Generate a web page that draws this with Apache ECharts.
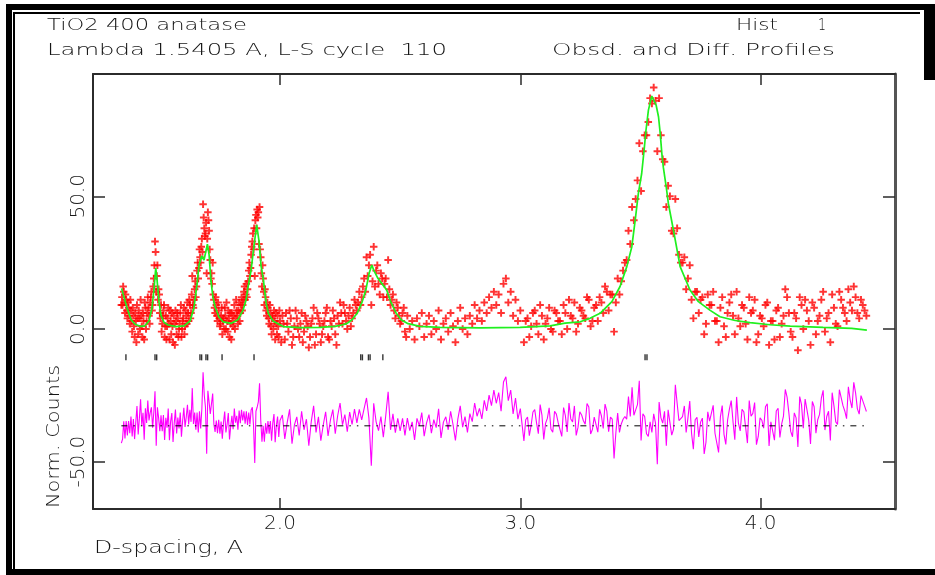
<!DOCTYPE html>
<html>
<head>
<meta charset="utf-8">
<title>TiO2 400 anatase</title>
<script src="https://cdn.jsdelivr.net/npm/echarts@6/dist/echarts.min.js"></script>
<style>
  html, body { margin: 0; padding: 0; background: #fff; }
  #chart { width: 935px; height: 575px; }
</style>
</head>
<body>
<div id="chart"></div>
<script>
// D-spacing of the plotted observations (A)
const dSpacing = [
  1.340,1.345,1.350,1.355,1.360,1.365,1.370,1.375,1.380,1.385,1.390,1.395,1.400,1.405,1.410,1.415,1.420,1.425,1.430,1.435,
  1.440,1.445,1.450,1.455,1.460,1.465,1.470,1.475,1.480,1.485,1.490,1.495,1.500,
  1.505,1.510,1.515,1.520,1.525,1.530,1.535,1.540,1.545,1.550,1.555,1.560,1.565,1.570,1.575,1.580,1.585,1.590,1.595,1.600,
  1.605,1.610,1.615,1.620,1.625,1.630,1.635,1.640,1.645,1.650,1.655,1.660,1.665,1.670,1.675,1.680,1.685,1.690,1.695,1.700,
  1.705,1.710,1.715,1.720,1.725,1.730,1.735,1.740,1.745,1.750,1.755,1.760,1.765,1.770,1.775,1.780,1.785,1.790,1.795,1.800,
  1.805,1.810,1.815,1.820,1.825,1.830,1.835,1.840,1.845,1.850,1.855,1.860,1.865,1.870,1.875,1.880,1.885,1.890,1.895,1.900,
  1.905,1.910,1.915,1.920,1.925,1.930,1.935,1.940,1.945,1.950,1.955,1.960,1.965,1.970,1.975,1.980,1.985,1.990,1.995,2.000,
  2.01,2.02,2.03,2.04,2.05,2.06,2.07,2.08,2.09,2.10,2.11,2.12,2.13,2.14,2.15,2.16,2.17,2.18,2.19,2.20,
  2.21,2.22,2.23,2.24,2.25,2.26,2.27,2.28,2.29,2.30,2.31,2.32,2.33,2.34,2.35,2.36,2.37,2.38,2.39,2.40,
  2.41,2.42,2.43,2.44,2.45,2.46,2.47,2.48,2.49,2.50,2.51,2.52,2.53,2.54,2.55,2.56,2.57,2.58,2.59,2.60,
  2.61,2.62,2.63,2.64,2.65,2.66,2.67,2.68,2.69,2.70,2.71,2.72,2.73,2.74,2.75,2.76,2.77,2.78,2.79,2.80,
  2.81,2.82,2.83,2.84,2.85,2.86,2.87,2.88,2.89,2.90,2.91,2.92,2.93,2.94,2.95,2.96,2.97,2.98,2.99,3.00,
  3.015,3.030,3.045,3.060,3.075,3.090,3.105,3.120,3.135,3.150,3.165,3.180,3.195,3.210,3.225,3.240,3.255,3.270,3.285,3.300,
  3.315,3.330,3.345,3.360,3.375,3.390,3.405,3.420,3.435,3.450,3.465,3.480,3.495,3.510,3.525,3.540,3.555,3.570,3.585,3.600,
  3.615,3.630,3.645,3.660,3.675,3.690,3.705,3.720,3.735,3.750,3.765,3.780,3.795,3.810,3.825,3.840,3.855,3.870,3.885,3.900,
  3.915,3.930,3.945,3.960,3.975,3.990,4.005,4.020,4.035,4.050,4.065,4.080,4.095,4.110,4.125,4.140,4.155,4.170,4.185,4.200,
  4.215,4.230,4.245,4.260,4.275,4.290,4.305,4.320,4.335,4.350,4.365,4.380,4.395,4.410,4.425,4.440
];

// observed normalised counts (red +)
const observed = [
  9,9,14,6,11,4,8,2,7,-1,5,-3,3,9,-2,4,11,1,6,-4,
  8,3,12,5,10,14,9,19,33,14,24,15,6,
  9,2,7,-3,5,1,8,-4,3,6,-5,2,7,-2,4,0,6,-3,3,8,
  1,5,10,3,9,6,20,8,15,12,22,19,30,25,34,47,38,36,21,44,
  37,26,21,25,11,6,9,3,7,1,5,-2,4,8,0,3,7,-3,2,6,
  1,9,4,7,2,10,6,12,9,14,11,17,15,22,20,28,33,30,20,43,
  45,44,46,27,16,19,9,12,5,8,2,6,-2,4,7,-4,2,5,-3,3,
  5,-4,2,7,-6,1,4,-3,6,-1,3,-7,2,8,-2,4,-5,1,6,-3,
  3,7,-2,5,10,2,6,0,8,4,11,7,14,12,19,27,24,9,31,22,
  17,21,12,19,26,9,13,4,8,2,6,-1,5,0,3,-4,4,1,6,-3,
  2,5,-2,3,0,7,-4,2,4,-1,6,1,-5,3,8,0,4,-2,5,2,
  9,4,7,3,10,6,12,8,14,9,13,6,17,19,10,14,5,11,3,7,
  -5,4,1,7,-2,5,2,8,-1,6,3,9,0,5,10,2,7,4,11,3,
  9,12,6,14,13,-1,19,18,25,37,46,49,70,67,73,87,91,67,73,63,
  54,37,49,28,25,15,24,4,14,11,-2,13,9,3,-5,12,-3,10,5,14,
  1,8,-4,6,11,-2,4,9,-6,3,7,-3,5,12,-1,6,-8,9,11,3,
  10,-2,5,14,4,-5,8,1,11,6,15,7,12,4,9,5
];

// difference profile as drawn (magenta), already shifted below the pattern
const difference = [
  -43,-41.5,-34.8,-41.3,-34.7,-40.1,-34.7,-39.3,-33,-40.5,-33.9,-41.5,-35.2,-29,-39.8,-33.6,-26.5,-36.5,-31.6,-41.7,
  -29.9,-35.4,-27,-34.5,-31.5,-29.5,-37.2,-31.5,-23.5,-44,-29.5,-33.5,-38.5,
  -32.5,-38.5,-32.4,-41.8,-33.5,-37.2,-30,-41.9,-34.8,-31.7,-42.6,-35.5,-30.4,-39.4,-33.4,-37.5,-31.5,-40.6,-34.6,-29.7,
  -36.9,-33.2,-28.6,-36,-30.5,-35,-22.3,-35.8,-31.5,-38,-31.5,-39,-31,-37.5,-30,-16.3,-25,-29.5,-47,-23.3,
  -27.5,-32,-32,-24.3,-36,-38.8,-34.5,-39.3,-34.2,-39.5,-34.9,-41.4,-35.2,-31.1,-39,-35.9,-31.7,-41.6,-36.6,-32.7,
  -37.8,-30,-35.3,-32.7,-38,-30.7,-35.5,-30.5,-34.5,-31,-35.7,-31,-36.2,-31.5,-36,-30.5,-29.5,-36.5,-50.5,-31,
  -29.5,-27.5,-20.5,-34.5,-42.5,-36.5,-42.5,-35.5,-39.5,-34.7,-39.5,-34.7,-42.1,-35.5,-32.1,-42.7,-36.3,-33,-40.7,-34.5,
  -32.4,-41.4,-35.3,-30.3,-43.2,-36.2,-33.1,-40.1,-31,-38,-34,-44,-35,-29,-39,-33.1,-42.1,-36.2,-31.2,-40.3,
  -34.3,-30.4,-39.5,-32.7,-27.9,-36.1,-32.3,-38.7,-31.3,-36,-30.2,-35.4,-30.3,-34.3,-30,-26,-33.5,-51.5,-28,-35,
  -38.3,-33,-40.8,-32.7,-23.7,-38,-32,-39.1,-33.7,-38.4,-33.7,-40.1,-33.6,-38.3,-35,-41.8,-33.7,-36.5,-31.5,-40.4,
  -35.4,-32.3,-39.3,-34.2,-37.2,-30.1,-41.1,-35.1,-33.1,-38,-31,-36,-42,-34,-29,-37,-33,-39,-31.9,-34.9,
  -27.9,-32.9,-29.9,-33.9,-26.9,-30.9,-24.9,-28.9,-23,-28,-24,-31,-20,-18,-27,-23,-32,-26,-34,-30,
  -42.2,-33.2,-36.3,-30.4,-39.5,-32.5,-35.6,-29.7,-38.9,-32.1,-35.4,-29.6,-38.8,-33.9,-29,-37.1,-32.4,-35.9,-29.4,-37.9,
  -32.5,-30.3,-37.5,-31,-33.2,-48.8,-31.7,-35.8,-33,-25.5,-22,-30.5,-19.5,-32,-39.5,-35,-32,-51,-33.5,-31,
  -30.5,-40,-21,-34.5,-33,-39,-27.2,-45.3,-33.3,-35.1,-47.1,-31.2,-34.3,-39.3,-46.5,-28.9,-43.5,-30.2,-34.9,-25.6,
  -38.4,-31.2,-43,-32.9,-27.7,-40.5,-34.4,-29.3,-44.1,-35,-30.9,-40.9,-32.8,-25.7,-38.6,-31.6,-44.5,-28.5,-26.4,-34.4,
  -27.3,-39.3,-32.2,-23.1,-33,-42,-29,-36,-25.9,-30.9,-21.8,-29.8,-24.1,-32.1,-27.1,-31.1
];

// the pattern is denser than the points above: further observations lying between them
const dSpacingExtra = [
  1.3425,1.3475,1.3525,1.3575,1.3625,1.3675,1.3725,1.3775,1.3825,1.3875,1.3925,1.3975,1.4025,1.4075,1.4125,1.4175,1.4225,1.4275,1.4325,1.4375,
  1.4425,1.4475,1.4525,1.4575,1.4625,1.4675,1.4725,1.4775,1.4825,1.4875,1.4925,1.4975,1.5025,1.5075,1.5125,1.5175,1.5225,1.5275,1.5325,1.5375,
  1.5425,1.5475,1.5525,1.5575,1.5625,1.5675,1.5725,1.5775,1.5825,1.5875,1.5925,1.5975,1.6025,1.6075,1.6125,1.6175,1.6225,1.6275,1.6325,1.6375,
  1.6425,1.6475,1.6525,1.6575,1.6625,1.6675,1.6725,1.6775,1.6825,1.6875,1.6925,1.6975,1.7025,1.7075,1.7125,1.7175,1.7225,1.7275,1.7325,1.7375,
  1.7425,1.7475,1.7525,1.7575,1.7625,1.7675,1.7725,1.7775,1.7825,1.7875,1.7925,1.7975,1.8025,1.8075,1.8125,1.8175,1.8225,1.8275,1.8325,1.8375,
  1.8425,1.8475,1.8525,1.8575,1.8625,1.8675,1.8725,1.8775,1.8825,1.8875,1.8925,1.8975,1.9025,1.9075,1.9125,1.9175,1.9225,1.9275,1.9325,1.9375,
  1.9425,1.9475,1.9525,1.9575,1.9625,1.9675,1.9725,1.9775,1.9825,1.9875,1.9925,1.9975,
  2.005,2.015,2.025,2.035,2.045,2.055,2.065,2.075,2.085,2.095,2.105,2.115,2.125,2.135,2.145,2.155,2.165,2.175,2.185,2.195,
  2.205,2.215,2.225,2.235,2.245,2.255,2.265,2.275,2.285,2.295,2.305,2.315,2.325,2.335,2.345,2.355,2.365,2.375,2.385,2.395,
  2.405,2.415,2.425,2.435,2.445,2.455,2.465,2.475,2.485,2.495,2.505,2.515,2.525
];
const observedExtra = [
  12,16,10,13,7,10,5,11,3,8,1,6,-5,4,7,0,5,-3,3,10,
  0,6,8,2,12,7,16,24,29,20,11,13,4,-1,5,9,1,-4,4,2,
  7,-2,1,5,-6,3,6,-3,2,9,0,4,-2,7,2,6,11,4,13,9,
  11,18,16,25,23,27,31,29,42,35,40,34,41,30,19,17,13,8,12,5,
  10,4,2,8,3,0,5,10,-1,4,6,-4,3,5,0,11,5,7,3,9,
  7,11,16,13,12,18,25,23,31,36,38,41,38,42,32,30,21,24,14,15,
  7,10,4,9,1,5,0,3,6,-2,1,7,
  -5,2,6,-1,4,-3,7,0,2,-5,5,1,-3,4,-6,6,2,-2,3,8,
  -4,1,4,-6,2,6,9,3,5,1,6,9,10,9,16,14,20,28,18,16,
  24,13,19,17,12,15,11,7,10,5,3,8,-3
];

// between the high-d observations: observed and difference values
const dSpacingHigh = [
  3.0225,3.0375,3.0525,3.0675,3.0825,3.0975,3.1125,3.1275,3.1425,3.1575,3.1725,3.1875,3.2025,3.2175,3.2325,3.2475,3.2625,3.2775,3.2925,3.3075,
  3.3225,3.3375,3.3525,3.3675,3.3825,3.3975,3.4125,3.4275,3.4425,3.4575,3.4725,3.4875,3.5025,3.5175,3.5325,3.5475,3.5625,3.5775,3.5925,3.6075,
  3.6225,3.6375,3.6525,3.6675,3.6825,3.6975,3.7125,3.7275,3.7425,3.7575,3.7725,3.7875,3.8025,3.8175,3.8325,3.8475,3.8625,3.8775,3.8925,3.9075,
  3.9225,3.9375,3.9525,3.9675,3.9825,3.9975,4.0125,4.0275,4.0425,4.0575,4.0725,4.0875,4.1025,4.1175,4.1325,4.1475,4.1625,4.1775,4.1925,4.2075,
  4.2225,4.2375,4.2525,4.2675,4.2825,4.2975,4.3125,4.3275,4.3425,4.3575,4.3725,4.3875,4.4025,4.4175,4.4325
];
const observedHigh = [
  3,-3,6,2,9,-4,4,0,7,3,-2,6,11,4,-1,8,5,12,1,8,
  3,10,16,7,13,10,13,22,26,32,41,56,52,73,78,85,86,87,64,46,
  50,36,38,25,27,19,11,14,6,12,2,9,14,3,8,1,6,13,-2,4,
  9,2,12,7,-5,5,1,10,3,-4,8,2,15,6,-3,4,12,0,7,-6,
  8,3,11,-1,6,13,2,14,8,3,10,16,6,11,7
];
const differenceHigh = [
  -34.2,-40.2,-31.3,-35.4,-28.5,-41.6,-33.7,-37.8,-31,-35.3,-40.5,-32.7,-27.9,-35,-40.1,-31.2,-34.6,-28.1,-39.6,-33.2,
  -38.9,-32.8,-28.3,-38.7,-34,-39.2,-39,-34,-34,-33,-32.5,-28.5,-42,-33,-40.5,-39,-35.5,-27.5,-35.5,-44,
  -31,-37.8,-28,-34,-29,-33.5,-39.3,-34.2,-40.7,-33.6,-42.7,-34.7,-28.8,-38.9,-33.1,-39.7,-34.3,-27,-41.7,-35.5,
  -30.3,-37.1,-27,-31.8,-43.6,-33.5,-37.4,-28.2,-35,-41.9,-29.9,-35.8,-22.8,-31.7,-40.6,-33.5,-25.5,-37.4,-30.4,-43.3,
  -29.3,-34.2,-26.1,-38.1,-31,-24,-35,-22.9,-28.9,-33.8,-26.8,-20.1,-30.1,-25.1,-29.1
];

// calculated profile (green)
const calcD = [
  1.341,1.351,1.3635,1.380,1.397,1.418,1.438,1.455,1.4675,1.476,1.483,1.488,1.497,1.505,1.5175,1.534,1.567,1.601,1.626,1.642,
  1.655,1.663,1.674,1.684,1.698,1.705,1.713,1.721,1.730,1.746,1.763,1.796,1.825,1.846,1.859,1.865,1.8795,1.890,1.903,1.913,
  1.921,1.931,1.942,1.9515,1.971,2.013,2.083,2.167,2.229,2.262,2.279,2.300,2.321,2.341,2.358,2.371,2.382,2.391,2.408,2.425,
  2.444,2.462,2.483,2.504,2.533,2.583,2.666,2.833,2.999,3.124,3.186,3.249,3.290,3.332,3.381,3.415,3.443,3.464,3.478,3.491,
  3.505,3.515,3.523,3.533,3.547,3.565,3.575,3.582,3.589,3.595,3.607,3.616,3.637,3.665,3.706,3.741,3.790,3.831,3.894,3.956,
  4.039,4.123,4.260,4.379,4.385,4.442
];
const calcCounts = [
  15.3,12,8,3.5,1.8,1.0,1.2,3,8,15,23,19,10,5,2.5,1.5,0.9,1.2,3,8,
  17,24,27.5,26,32,28,18,12,8.4,4.5,2.7,2.1,3.5,7,11,14.7,22,30,39.2,33,
  24,18.5,10,5.9,3,0.9,0.5,0.6,1.0,1.6,2.1,3.5,5.9,10,15,21,24.1,22,19,17,
  14.7,10,6,3.5,2,1.0,0.6,0.4,0.6,1.2,2.2,2.7,4.0,5.9,10.3,16,23.5,31,41,51,
  58.6,67.4,75,82.5,87.8,84.4,80,73.8,66,61,53.6,47.3,37.3,23.5,14.7,10.3,7,4.6,3.2,2.4,
  1.6,1.1,0.6,0.25,-0.4,-0.4
];

// anatase reflection positions (black tick marks)
const reflectionD = [1.359,1.480,1.487,1.667,1.674,1.692,1.699,1.759,1.892,2.336,2.343,2.368,2.375,2.428,3.519,3.527];
const reflectionLevel = -10.7;
const diffZero = -36.5;

const xTicks = [2.0, 3.0, 4.0];
const yTicks = [-50, 0, 50];
const xMin = 1.222, xMax = 4.559;
const yMin = -67.85, yMax = 96.1;

const FONT = '"DejaVu Sans", "Liberation Sans", sans-serif';
const plusPath = 'path://M3.7,0h2.6v3.7h3.7v2.6h-3.7v3.7h-2.6v-3.7h-3.7v-2.6h3.7z';

// stretch a text so it covers the same width as in the picture
const measureCtx = document.createElement('canvas').getContext('2d');
function fitText(text, x, y, width, size, rotation) {
  const font = '200 ' + size + 'px ' + FONT;
  measureCtx.font = font;
  const w = measureCtx.measureText(text).width || 1;
  return {
    type: 'text', x: x, y: y, rotation: rotation || 0, scaleX: width / w, z: 100,
    style: { text: text, font: font, fill: '#151515', align: 'left', verticalAlign: 'middle' }
  };
}
function band(x, y, w, h) {
  return { type: 'rect', shape: { x: x, y: y, width: w, height: h }, style: { fill: '#000' }, z: 100 };
}

const chart = echarts.init(document.getElementById('chart'));

const obsPoints = dSpacing.map((d, i) => [d, observed[i]])
  .concat(dSpacingExtra.map((d, i) => [d, observedExtra[i]]))
  .concat(dSpacingHigh.map((d, i) => [d, observedHigh[i]]));
const diffPoints = dSpacing.map((d, i) => [d, difference[i]])
  .concat(dSpacingHigh.map((d, i) => [d, differenceHigh[i]]))
  .sort((a, b) => a[0] - b[0]);
const calcPoints = calcD.map((d, i) => [d, calcCounts[i]]);
const tickPoints = reflectionD.map(d => [d, reflectionLevel]);
const zeroLine = [[dSpacing[0], diffZero], [dSpacing[dSpacing.length - 1], diffZero]];

const axisColor = '#2b2b2b';
const labelStyle = { fontSize: 20, fontFamily: FONT, fontWeight: 200, color: '#1a1a1a' };

const option = {
  animation: false,
  backgroundColor: '#fff',
  grid: { left: 93, right: 40, top: 74, bottom: 66 },
  xAxis: [
    {
      type: 'value', position: 'bottom', min: xMin, max: xMax,
      axisLine: { onZero: false, lineStyle: { color: axisColor, width: 2 } },
      axisTick: { inside: true, length: 11, customValues: xTicks, lineStyle: { color: axisColor, width: 1.5 } },
      axisLabel: Object.assign({ customValues: xTicks, margin: 5, formatter: v => v.toFixed(1) }, labelStyle),
      splitLine: { show: false }
    },
    {
      type: 'value', position: 'top', min: xMin, max: xMax,
      axisLine: { onZero: false, lineStyle: { color: axisColor, width: 2 } },
      axisTick: { inside: true, length: 11, customValues: xTicks, lineStyle: { color: axisColor, width: 1.5 } },
      axisLabel: { show: false },
      splitLine: { show: false }
    }
  ],
  yAxis: [
    {
      type: 'value', position: 'left', min: yMin, max: yMax,
      axisLine: { show: true, onZero: false, lineStyle: { color: axisColor, width: 2 } },
      axisTick: { show: true, inside: true, length: 12, customValues: yTicks, lineStyle: { color: axisColor, width: 1.5 } },
      axisLabel: Object.assign({ customValues: yTicks, rotate: 90, margin: 4, formatter: v => v.toFixed(1) }, labelStyle),
      splitLine: { show: false }
    },
    {
      type: 'value', position: 'right', min: yMin, max: yMax,
      axisLine: { show: true, onZero: false, lineStyle: { color: '#555', width: 3 } },
      axisTick: { show: true, inside: true, length: 12, customValues: yTicks, lineStyle: { color: axisColor, width: 1.5 } },
      axisLabel: { show: false },
      splitLine: { show: false }
    }
  ],
  series: [
    {
      name: 'Diff', type: 'line', data: diffPoints, showSymbol: false, silent: true, z: 2,
      lineStyle: { color: '#ff00ff', width: 1.1 }
    },
    {
      name: 'Zero', type: 'line', data: zeroLine, showSymbol: false, silent: true, z: 3,
      lineStyle: { color: '#000', width: 1, type: [6, 6, 1.5, 6, 1.5, 6] }
    },
    {
      name: 'Obsd', type: 'scatter', data: obsPoints, symbol: plusPath, symbolSize: 7.5, silent: true, z: 4,
      itemStyle: { color: '#ff0000' }
    },
    {
      name: 'Calc', type: 'line', data: calcPoints, showSymbol: false, silent: true, z: 5,
      lineStyle: { color: '#1ff01f', width: 1.7 }
    },
    {
      name: 'Reflections', type: 'scatter', data: tickPoints, symbol: 'rect', symbolSize: [1.4, 6], silent: true, z: 5,
      itemStyle: { color: '#000' }
    }
  ],
  graphic: [
    // window frame
    band(6, 4, 929, 6),
    band(6, 4, 6, 571),
    band(6, 569, 929, 6),
    band(924, 4, 11, 76),
    band(13, 12, 907, 2),
    band(13, 12, 2, 557),
    // headings and axis names
    fitText('TiO2 400 anatase', 47, 26, 200, 15),
    fitText('Lambda 1.5405 A, L-S cycle  110', 47, 51, 400, 15),
    fitText('Hist', 736, 26, 42, 15),
    fitText('1', 818, 26, 8, 15),
    fitText('Obsd. and Diff. Profiles', 552, 51, 283, 15),
    fitText('D-spacing, A', 94, 548, 149, 18),
    fitText('Norm. Counts', 54, 508, 143, 18, Math.PI / 2)
  ]
};

chart.setOption(option);
</script>
</body>
</html>
